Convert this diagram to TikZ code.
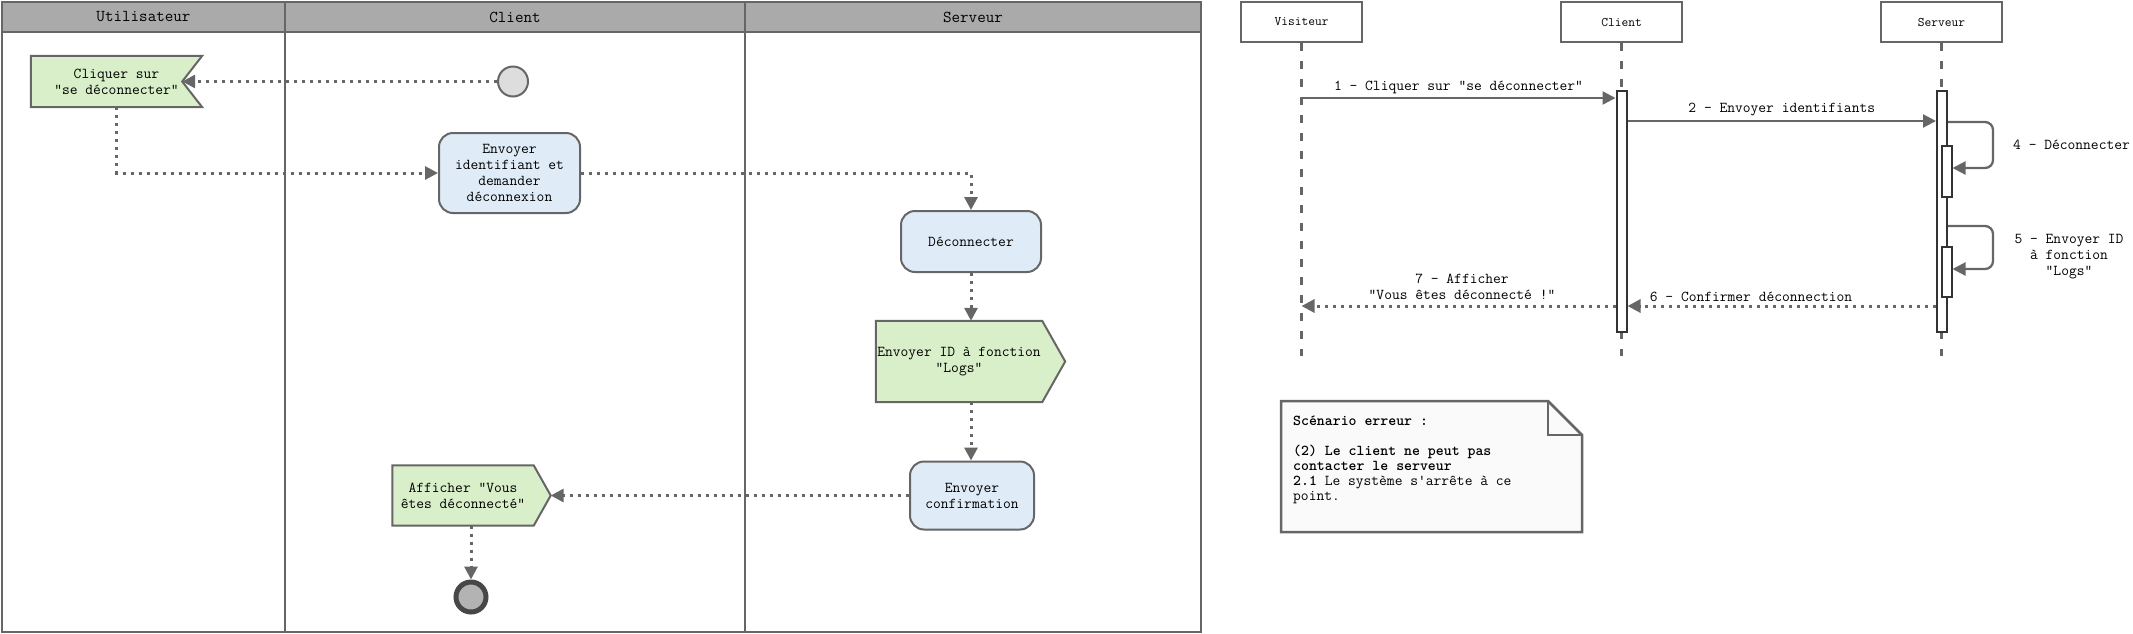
\documentclass[tikz,border=0pt]{standalone}
\usepackage{fontspec}
\usetikzlibrary{positioning,arrows.meta,backgrounds,calc}
\definecolor{edge}{HTML}{666666}
\definecolor{barline}{HTML}{333333}
\definecolor{lanehead}{HTML}{AAAAAA}
\definecolor{actfill}{HTML}{DFECF8}
\definecolor{sigfill}{HTML}{D9EFC9}
\definecolor{startfill}{HTML}{DDDDDD}
\definecolor{endfill}{HTML}{B3B3B3}
\definecolor{notefill}{HTML}{FAFAFA}
\tikzset{
  lane/.style={draw=edge, line width=2.5pt},
  lanetitle/.style={font=\ttfamily\fontsize{16.6}{18}\selectfont},
  boxtext/.style={align=center, inner sep=0pt, font=\ttfamily\fontsize{15.1}{16}\selectfont},
  action/.style={boxtext, draw=edge, line width=2pt, fill=actfill, rounded corners=14pt},
  flagtext/.style={boxtext},
  flagshape/.style={draw=edge, line width=2pt, fill=sigfill},
  startnode/.style={circle, draw=edge, line width=2pt, fill=startfill, minimum size=30pt, inner sep=0pt},
  endnode/.style={circle, draw=black!72, line width=5pt, fill=endfill, minimum size=30pt, inner sep=0pt},
  flow/.style={draw=edge, line width=3pt, dash pattern=on 3pt off 5pt, -{Triangle[length=13pt,width=13pt]}},
  actor/.style={draw=edge, line width=2.7pt, minimum width=121pt, minimum height=40pt, font=\ttfamily\fontsize{13.1}{15}\selectfont},
  lifeline/.style={draw=edge, line width=2.5pt, dash pattern=on 8pt off 10pt},
  bar/.style={draw=barline, fill=white, line width=2pt, minimum width=10pt, inner sep=0pt},
  msg/.style={draw=edge, line width=2.3pt, -{Triangle[length=13pt,width=13pt]}},
  reply/.style={msg, line width=3pt, dash pattern=on 3pt off 5pt},
  msglabel/.style={align=center, inner sep=0pt, font=\ttfamily\fontsize{15.1}{16}\selectfont},
}
\begin{document}
\begin{tikzpicture}[x=1pt,y=-1pt]
\useasboundingbox (0,0) rectangle (2133,633);
\path[draw=edge, line width=2.5pt, fill=lanehead] (2,2) rectangle (1201,32);
\draw[lane] (2,2) rectangle (1201,632);
\foreach \x in {285,745}{\draw[lane] (\x,2) -- (\x,632);}
\foreach \x/\name in {143.5/Utilisateur,515/Client,973/Serveur}{\node[lanetitle] (lane\name) at (\x,17) {\name};}

\node[startnode] (debut) at (513,81.5) {};
\node[flagtext, minimum width=171pt, minimum height=51pt] (cliquer) at (116.5,81.5) {Cliquer sur\\"se déconnecter"};
\node[action, minimum width=141pt, minimum height=80pt] (identifier) at (509.5,173) {Envoyer\\identifiant et\\demander\\déconnexion};
\node[action, minimum width=140pt, minimum height=61pt] (deconnecter) at (971,241.5) {Déconnecter};
\node[flagtext, minimum width=166pt, minimum height=81pt] (logs) at (959,361.5) {Envoyer ID à fonction\\"Logs"};
\node[action, minimum width=124pt, minimum height=68pt] (confirmer) at (972,495.5) {Envoyer\\confirmation};
\node[flagtext, minimum width=141pt, minimum height=60pt] (afficher) at (463,495.5) {Afficher "Vous\\êtes déconnecté"};
\node[endnode] (fin) at (471,597) {};
\begin{scope}[on background layer]
\path[flagshape] (cliquer.north west) -- (cliquer.north east) -- ([xshift=-20pt]cliquer.east) coordinate (cliquerPin) -- (cliquer.south east) -- (cliquer.south west) -- cycle;
\path[flagshape] (logs.north west) -- (logs.north east) -- ([xshift=23pt]logs.east) coordinate (logsTip) -- (logs.south east) -- (logs.south west) -- cycle;
\path[flagshape] (afficher.north west) -- (afficher.north east) -- ([xshift=17pt]afficher.east) coordinate (afficherTip) -- (afficher.south east) -- (afficher.south west) -- cycle;
\end{scope}

\draw[flow] (debut.west) -- (cliquerPin);
\draw[flow] (cliquer.south) |- (identifier.west);
\draw[flow] (identifier.east) -| (deconnecter.north);
\draw[flow] (deconnecter.south) -- (deconnecter.south |- logs.north);
\draw[flow] (deconnecter.south |- logs.south) -- (deconnecter.south |- confirmer.north);
\draw[flow] (confirmer.west) -- (afficherTip);
\draw[flow] (afficher.south -| fin.north) -- (fin.north);

\foreach \x/\name in {1301.5/Visiteur,1621.5/Client,1941.5/Serveur}{
  \node[actor] (\name) at (\x,22) {\name};
  \draw[lifeline] (\name.south) -- (\x,356);}
\node[bar, minimum height=241pt] (barClient) at (1621.5,211.5) {};
\node[bar, minimum height=241pt] (barServeur) at (1942,211.5) {};
\node[bar, minimum height=51pt] (barDeco) at (1946.5,171.5) {};
\node[bar, minimum height=50pt] (barLogs) at (1946.5,272) {};

\draw[msg] (Visiteur.south |- 0,98) -- (barClient.west |- 0,98) node[msglabel, midway, above=3pt] {1 - Cliquer sur "se déconnecter"};
\draw[msg] (barClient.east |- 0,121) -- (barServeur.west |- 0,121) node[msglabel, midway, above=4pt] {2 - Envoyer identifiants};
\draw[msg, rounded corners=8pt] (barServeur.east |- 0,122) -- ++(45,0) |- (barDeco.east |- 0,168);
\node[msglabel, anchor=west] (lblDeco) at (2013,145) {4 - Déconnecter};
\draw[msg, rounded corners=8pt] (barServeur.east |- 0,226) -- ++(45,0) |- (barLogs.east |- 0,269);
\node[msglabel] (lblLogs) at (2069,257) {5 - Envoyer ID\\à fonction\\"Logs"};
\draw[reply] (barServeur.west |- 0,306) -- (barClient.east |- 0,306);
\node[msglabel] (lblConfirm) at (1751,297) {6 - Confirmer déconnection};
\draw[reply] (barClient.west |- 0,306) -- (Visiteur.south |- 0,306);
\node[msglabel] (lblAfficher) at (1462,287) {7 - Afficher\\"Vous êtes déconnecté !"};

\path[draw=edge, line width=2.5pt, fill=notefill] (1281,401) -- (1548,401) -- (1582,435) -- (1582,532) -- (1281,532) -- cycle;
\draw[edge, line width=2.5pt] (1548,401) -- (1548,435) -- (1582,435);
\node[msglabel, align=left, anchor=north west, font=\ttfamily\fontsize{15.1}{15}\selectfont] (erreur) at (1293,416) {\textbf{Scénario erreur :}\\[15pt]\textbf{(2) Le client ne peut pas}\\\textbf{contacter le serveur}\\\textbf{2.1} Le système s'arrête à ce\\point.};
\end{tikzpicture}
\end{document}
